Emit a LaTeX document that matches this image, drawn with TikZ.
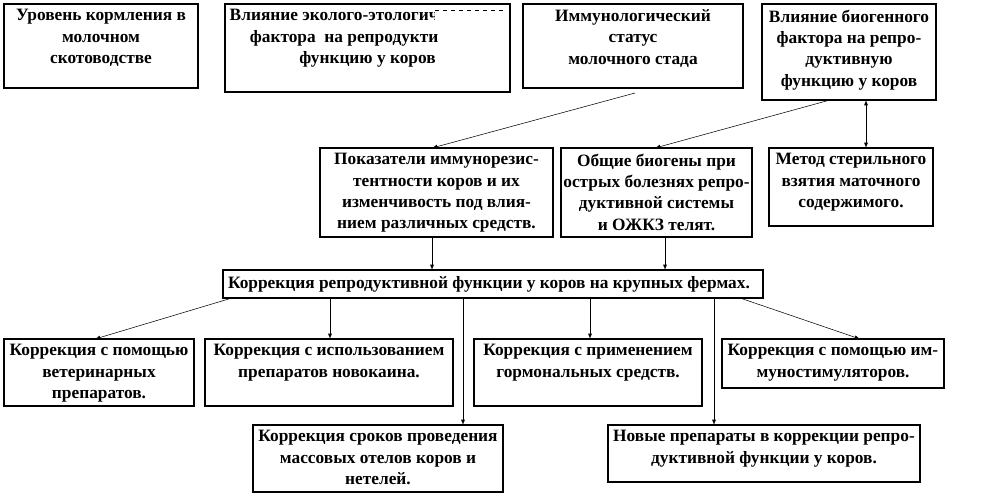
\documentclass[tikz,border=0pt]{standalone}
\usepackage{fontspec}
\setmainfont{Liberation Serif}
\begin{document}
\begin{tikzpicture}[x=0.75pt,y=-0.75pt,
  bx/.style={draw,thick,fill=white},
  tx/.style={align=center,font=\bfseries\fontsize{13}{16}\selectfont,inner sep=1pt},
  ar/.style={-latex,thin}]
\useasboundingbox (0,0) rectangle (995,496);
\newcommand{\bxn}[6]{\draw[bx] (#2,#3) rectangle (#4,#5); \node[tx,anchor=north] (#1) at ({(#2+#4)/2},#3+4) {#6};
 \coordinate (#1t) at ({(#2+#4)/2},#3); \coordinate (#1b) at ({(#2+#4)/2},#5);}
\bxn{a}{4}{4}{198}{88}{Уровень кормления в\\молочном\\скотоводстве}
\bxn{b}{225}{4}{510}{92}{\hspace*{-50pt}Влияние эколого-этологич\\\hspace*{-35pt}фактора\ \ на репродукти\\функцию у коров}
\fill[white] (435,8) rectangle (505,22);
\draw[dashed,thin] (435,10) -- (505,10);
\bxn{c}{523}{4}{743}{88}{Иммунологический\\статус\\молочного стада}
\bxn{d}{762}{4}{936}{100}{Влияние биогенного\\фактора на репро-\\дуктивную\\функцию у коров}
\bxn{e}{320}{148}{553}{237}{Показатели иммунорезис-\\тентности коров и их\\изменчивость под влия-\\нием различных средств.}
\bxn{f}{561}{148}{752}{237}{Общие биогены при\\острых болезнях репро-\\дуктивной системы\\и ОЖКЗ телят.}
\bxn{g}{769}{148}{933}{226}{Метод стерильного\\взятия маточного\\содержимого.}
\draw[bx] (223,270) rectangle (763,298);
\node[tx] (h) at (489,284) {Коррекция репродуктивной функции у коров на крупных фермах.};
\bxn{i}{4}{339}{194}{406}{Коррекция с помощью\\ветеринарных\\препаратов.}
\bxn{j}{205}{339}{453}{406}{Коррекция с использованием\\препаратов новокаина.}
\bxn{k}{474}{339}{702}{406}{Коррекция с применением\\гормональных средств.}
\bxn{l}{722}{339}{944}{388}{Коррекция с помощью им-\\муностимуляторов.}
\bxn{m}{253}{425}{503}{492}{Коррекция сроков проведения\\массовых отелов коров и\\нетелей.}
\bxn{n}{608}{425}{920}{482}{Новые препараты в коррекции репро-\\дуктивной функции у коров.}
\draw[ar] (635,93) -- (432,148);
\draw[ar] (830,100) -- (655,148);
\draw[latex-latex] (866,100) -- (866,148);
\draw[ar] (432,237) -- (432,270);
\draw[ar] (665,237) -- (665,270);
\draw[ar] (232,298) -- (95,339);
\draw[ar] (330,298) -- (330,339);
\draw[ar] (463,298) -- (463,425);
\draw[ar] (590,298) -- (590,339);
\draw[ar] (714,298) -- (714,425);
\draw[ar] (740,298) -- (860,339);
\end{tikzpicture}
\end{document}
